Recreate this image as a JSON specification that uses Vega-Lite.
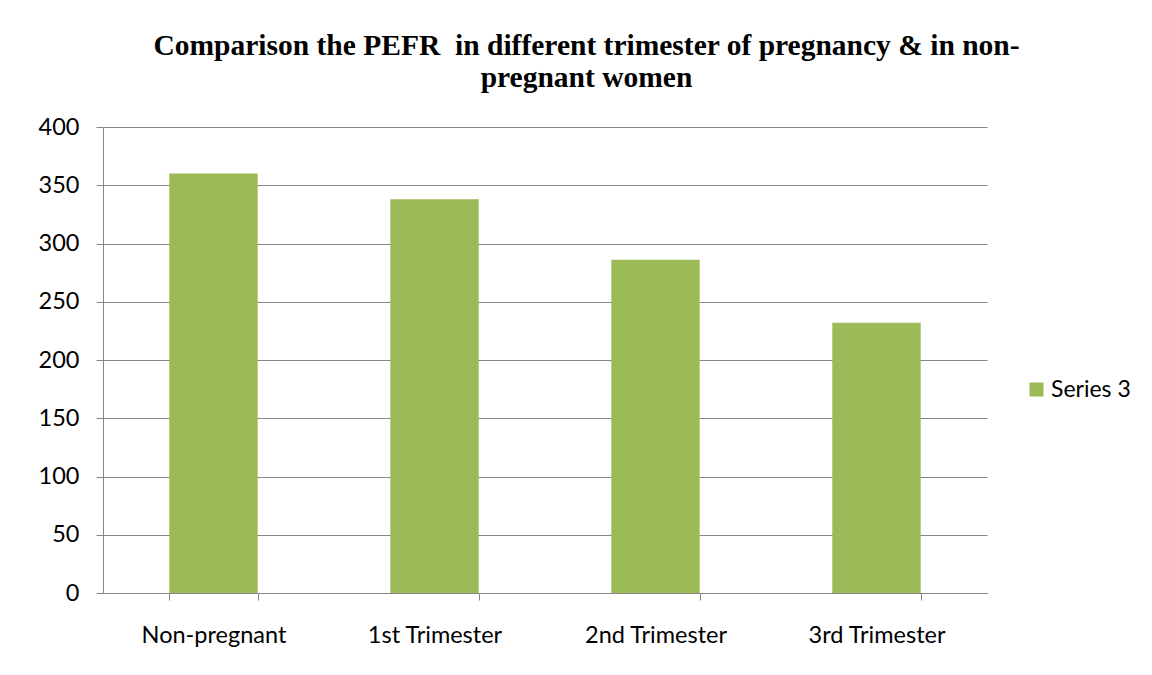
{
  "$schema": "https://vega.github.io/schema/vega-lite/v6.json",
  "autosize": "none",
  "width": 884,
  "height": 466,
  "padding": {"left": 103, "top": 127, "right": 165, "bottom": 82},
  "background": "white",
  "data": {"values": [
    {"group": "Non-pregnant", "series": "Series 3", "pefr": 360},
    {"group": "1st Trimester", "series": "Series 3", "pefr": 338},
    {"group": "2nd Trimester", "series": "Series 3", "pefr": 286},
    {"group": "3rd Trimester", "series": "Series 3", "pefr": 232}
  ]},
  "title": {
    "text": ["Comparison the PEFR\u00a0 in different trimester of pregnancy & in non-", "pregnant women"],
    "font": "Liberation Serif",
    "fontSize": 29.5,
    "fontWeight": "bold",
    "color": "black",
    "anchor": "middle",
    "frame": "group",
    "dx": 41.5,
    "offset": 22,
    "lineHeight": 32
  },
  "mark": {"type": "bar", "color": "#9BBB59"},
  "encoding": {
    "x": {
      "field": "group",
      "type": "nominal",
      "sort": null,
      "scale": {"paddingInner": 0.6, "paddingOuter": 0.3},
      "axis": {
        "title": null,
        "labelAngle": 0,
        "labelFont": "Lato",
        "labelFontSize": 23.5,
        "labelColor": "black",
        "labelPadding": 23,
        "tickBand": "extent",
        "tickSize": 7,
        "tickColor": "#868686",
        "domainColor": "#868686",
        "grid": false
      }
    },
    "y": {
      "field": "pefr",
      "type": "quantitative",
      "scale": {"domain": [0, 400]},
      "axis": {
        "title": null,
        "values": [0, 50, 100, 150, 200, 250, 300, 350, 400],
        "labelFont": "Lato",
        "labelFontSize": 23.5,
        "labelColor": "black",
        "labelPadding": 17,
        "tickSize": 7,
        "tickColor": "#868686",
        "domainColor": "#868686",
        "gridColor": "#868686",
        "gridOpacity": 1
      }
    },
    "fill": {
      "field": "series",
      "type": "nominal",
      "scale": {"range": ["#9BBB59"]},
      "legend": {
        "title": null,
        "orient": "none",
        "legendX": 922,
        "legendY": 251,
        "symbolType": "square",
        "symbolSize": 196,
        "symbolStrokeWidth": 0,
        "labelFont": "Lato",
        "labelFontSize": 23,
        "labelColor": "black",
        "labelOffset": 3
      }
    }
  },
  "config": {"view": {"stroke": null}}
}
